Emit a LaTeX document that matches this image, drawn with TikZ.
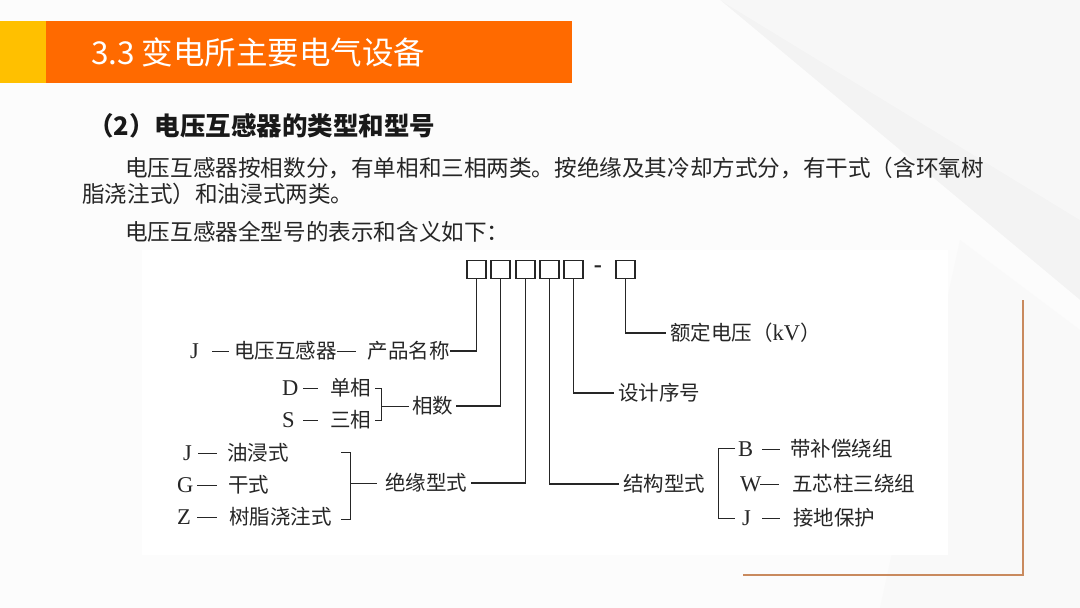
\documentclass[tikz,border=0pt]{standalone}
\usepackage{fontspec}
\setmainfont{Noto Sans CJK SC}
\newfontfamily\lat[Scale=1.1]{Liberation Serif}
\definecolor{orangebar}{HTML}{FF6A00}
\definecolor{yellowbar}{HTML}{FFC000}
\definecolor{brownline}{HTML}{C98A5E}
\definecolor{bgray}{HTML}{F3F3F3}
% letter, letter box width, dash length, gap, text
\newcommand\itm[5]{\makebox[#2pt][l]{\lat #1}\rule[6.8pt]{#3pt}{1.1pt}\hspace{#4pt}#5}
\newcommand\dsh[1]{\rule[6.8pt]{#1pt}{1.1pt}}
\begin{document}
\begin{tikzpicture}[x=1pt,y=-1pt,
  dtext/.style={font=\fontsize{20.5}{20.5}\selectfont, anchor=west, inner sep=0pt, text=black!85},
  ptext/.style={font=\fontsize{22.6}{22.6}\selectfont, anchor=west, inner sep=0pt, text=black!85},
  pbox/.style={draw=black!85, line width=1.3pt, minimum width=19pt, minimum height=18pt, inner sep=0pt},
  conn/.style={draw=black!85, line width=1.2pt},
]
\useasboundingbox (0,0) rectangle (1080,608);
% background
\fill[bgray] (0,0) rectangle (1080,608);
\fill[white, opacity=0.8] (0,0) -- (720,0) -- (1080,300) -- (1080,608) -- (0,608) -- cycle;
\fill[white, opacity=0.4] (720,0) -- (1080,0) -- (1080,220) -- cycle;
\fill[black!3, opacity=0.6] (960,240) -- (1080,330) -- (1080,608) -- (880,608) -- cycle;
% title bar
\fill[yellowbar] (0,21) rectangle (46,83);
\fill[orangebar] (46,21) rectangle (572,83);
\node[anchor=west, inner sep=0pt, text=white, font=\fontsize{31.5}{31.5}\selectfont] (title) at (91,52) {3.3 变电所主要电气设备};
% heading and paragraph
\node[anchor=west, inner sep=0pt, text=black!90, font=\fontsize{25.5}{25.5}\selectfont\bfseries] (head) at (88,126) {（2）电压互感器的类型和型号};
\node[ptext] (p1) at (125,168) {电压互感器按相数分，有单相和三相两类。按绝缘及其冷却方式分，有干式（含环氧树};
\node[ptext] (p2) at (82,194) {脂浇注式）和油浸式两类。};
\node[ptext] (p3) at (125,232) {电压互感器全型号的表示和含义如下：};
% white picture area
\fill[white] (142,250) rectangle (948,555);
% brown corner line
\draw[brownline, line width=2.2pt] (743,575) -- (1023,575) -- (1023,300);
% code boxes
\node[pbox] (b1) at (476.5,269.5) {};
\node[pbox] (b2) at (500.5,269.5) {};
\node[pbox] (b3) at (525.5,269.5) {};
\node[pbox] (b4) at (549.5,269.5) {};
\node[pbox] (b5) at (573.5,269.5) {};
\node[inner sep=0pt, text=black!85, font=\fontsize{22}{22}\selectfont\lat\bfseries] (dash) at (598,269) {-};
\node[pbox] (b6) at (625.5,269.5) {};
% texts
\node[dtext, inner xsep=0pt] (t1) at (190,351) {\itm{J}{22}{17}{5}{电压互感器}\dsh{19}\hspace{12pt}产品名称\hspace{4pt}};
\node[dtext] (d1) at (282,388) {\itm{D}{21}{15}{12}{单相}};
\node[dtext] (d2) at (282,420) {\itm{S}{21}{15}{12}{三相}};
\node[dtext, inner xsep=3pt] (t2) at (409,406) {相数};
\node[dtext] (i1) at (183,453) {\itm{J}{15}{19}{10}{油浸式}};
\node[dtext] (i2) at (177,485) {\itm{G}{20}{20}{11}{干式}};
\node[dtext] (i3) at (177,517) {\itm{Z}{20}{20}{12}{树脂浇注式}};
\node[dtext, inner xsep=4pt] (t3) at (381,483) {绝缘型式};
\node[dtext, inner xsep=4pt] (t4) at (619,484) {结构型式};
\node[dtext, inner xsep=4pt] (t5) at (614,393) {设计序号};
\node[dtext, inner xsep=4pt] (t6) at (666,333) {额定电压（{\lat kV}）};
\node[dtext] (s1) at (738,449) {\itm{B}{24}{18}{10}{带补偿绕组}};
\node[dtext] (s2) at (740,484) {\itm{W}{20}{19}{13}{五芯柱三绕组}};
\node[dtext] (s3) at (742,518) {\itm{J}{20}{18}{13}{接地保护}};
% connectors
\draw[conn] (b1.south) |- (t1.east);
\draw[conn] (b2.south) |- (t2.east);
\draw[conn] (b3.south) |- (t3.east);
\draw[conn] (b4.south) |- (t4.west);
\draw[conn] (b5.south) |- (t5.west);
\draw[conn] (b6.south) |- (t6.west);
% brackets
\coordinate (pa) at (375,388);
\coordinate (pb) at (375,420);
\coordinate (pm) at (381,406);
\draw[conn, line width=1pt] (pa) -- (381,388) -- (381,420) -- (pb);
\draw[conn, line width=1pt] (pm) -- (t2.west);
\coordinate (ia) at (341,452);
\coordinate (ib) at (341,519);
\coordinate (im) at (350,483);
\draw[conn, line width=1pt] (ia) -- (350,452) -- (350,519) -- (ib);
\draw[conn, line width=1pt] (im) -- ([xshift=-4pt]t3.west);
\coordinate (sa) at (735,448);
\coordinate (sb) at (735,518);
\draw[conn, line width=1pt] (sa) -- (718,448) -- (718,518) -- (sb);
\end{tikzpicture}
\end{document}
